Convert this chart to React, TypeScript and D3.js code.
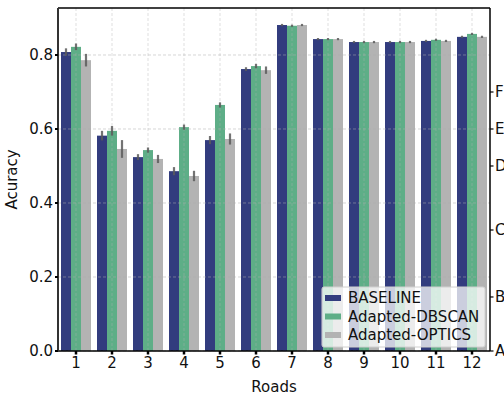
import * as d3 from 'd3';

const roads = ['1', '2', '3', '4', '5', '6', '7', '8', '9', '10', '11', '12'];
const seriesNames = ['BASELINE', 'Adapted-DBSCAN', 'Adapted-OPTICS'];
const seriesColors = ['#323c7e', '#5eae87', '#b3b3b3'];

const baseline = [0.808, 0.582, 0.524, 0.486, 0.570, 0.762, 0.881, 0.843, 0.835, 0.835, 0.838, 0.849];
const dbscan = [0.822, 0.595, 0.543, 0.605, 0.665, 0.770, 0.879, 0.843, 0.835, 0.835, 0.841, 0.857];
const optics = [0.786, 0.546, 0.519, 0.473, 0.573, 0.759, 0.881, 0.843, 0.835, 0.835, 0.838, 0.849];

const baselineErr = [0.010, 0.013, 0.008, 0.011, 0.011, 0.005, 0.003, 0.003, 0.003, 0.003, 0.003, 0.003];
const dbscanErr = [0.009, 0.013, 0.007, 0.007, 0.007, 0.006, 0.003, 0.003, 0.003, 0.003, 0.003, 0.003];
const opticsErr = [0.017, 0.024, 0.011, 0.014, 0.015, 0.010, 0.003, 0.003, 0.003, 0.003, 0.003, 0.003];

const yTickValues = [0, 0.2, 0.4, 0.6, 0.8];
const rightTickLabels = ['A', 'B', 'C', 'D', 'E', 'F'];
const rightTickValues = [0, 0.146, 0.327, 0.5, 0.6, 0.7];

export default function App() {
  const width = 504;
  const height = 397;
  const margin = { top: 8, right: 14, bottom: 46, left: 58 };
  const plotW = width - margin.left - margin.right;
  const plotH = height - margin.top - margin.bottom;

  const values = [baseline, dbscan, optics];
  const errors = [baselineErr, dbscanErr, opticsErr];

  const x = d3.scaleBand().domain(roads).range([0, plotW]).padding(0);
  const groupW = x.bandwidth() * (30 / 36);
  const xs = d3.scaleBand().domain(seriesNames).range([0, groupW]).padding(0);
  const y = d3.scaleLinear().domain([0, 0.927]).range([plotH, 0]);

  const font = 'DejaVu Sans, sans-serif';

  return (
    <svg width={width} height={height} style={{ position: 'absolute', left: 0, top: 0, display: 'block' }} fontFamily={font}>
      <rect width={width} height={height} fill="#fff" />
      <g transform={`translate(${margin.left},${margin.top})`}>
        {values.map((vals, si) =>
          vals.map((v, i) => {
            const bx = (x(roads[i]) ?? 0) + (x.bandwidth() - groupW) / 2 + (xs(seriesNames[si]) ?? 0);
            return (
              <rect key={`b-${si}-${i}`} x={bx} y={y(v)} width={xs.bandwidth()} height={plotH - y(v)} fill={seriesColors[si]} />
            );
          })
        )}
        {/* grid on top, faint */}
        {yTickValues.map((t) => (
          <line key={`gy-${t}`} x1={0} x2={plotW} y1={y(t)} y2={y(t)} stroke="#b0b0b0" strokeOpacity={0.5} strokeDasharray="3 2" />
        ))}
        {roads.map((r) => (
          <line key={`gx-${r}`} x1={(x(r) ?? 0) + x.bandwidth() / 2} x2={(x(r) ?? 0) + x.bandwidth() / 2} y1={0} y2={plotH} stroke="#b0b0b0" strokeOpacity={0.4} strokeDasharray="3 2" />
        ))}
        {values.map((vals, si) =>
          vals.map((v, i) => {
            const cx = (x(roads[i]) ?? 0) + (x.bandwidth() - groupW) / 2 + (xs(seriesNames[si]) ?? 0) + xs.bandwidth() / 2;
            const e = errors[si][i];
            return (
              <line key={`e-${si}-${i}`} x1={cx} x2={cx} y1={y(v - e)} y2={y(v + e)} stroke="#5a5a5a" strokeOpacity={0.85} strokeWidth={2.2} />
            );
          })
        )}

        {/* spines */}
        <line x1={0} x2={plotW} y1={0} y2={0} stroke="#000" strokeWidth={1.5} />
        <line x1={plotW} x2={plotW} y1={0} y2={plotH} stroke="#000" strokeWidth={1.5} />
        <line x1={0} x2={plotW} y1={plotH} y2={plotH} stroke="#000" strokeWidth={1.5} />
        <line x1={0} x2={0} y1={0} y2={plotH} stroke="#333" strokeWidth={2} />

        {/* left ticks */}
        {yTickValues.map((t) => (
          <g key={`ly-${t}`} transform={`translate(0,${y(t)})`}>
            <line x1={-3} x2={0} stroke="#000" strokeWidth={2} />
            <text x={-5} dy="0.36em" textAnchor="end" fontSize={15} fill="#111">{t.toFixed(1)}</text>
          </g>
        ))}
        {/* bottom ticks */}
        {roads.map((r) => (
          <g key={`lx-${r}`} transform={`translate(${(x(r) ?? 0) + x.bandwidth() / 2},${plotH})`}>
            <line y1={0} y2={3.5} stroke="#000" strokeWidth={2.5} />
            <text y={17} textAnchor="middle" fontSize={15} fill="#111">{r}</text>
          </g>
        ))}
        {/* right ticks */}
        {rightTickValues.map((t, i) => (
          <g key={`ry-${i}`} transform={`translate(${plotW},${y(t)})`}>
            <line x1={0} x2={3.5} stroke="#000" strokeWidth={1.2} />
            <text x={5} dy="0.36em" textAnchor="start" fontSize={15} fill="#111">{rightTickLabels[i]}</text>
          </g>
        ))}

        <text transform={`translate(${-41},${plotH / 2}) rotate(-90)`} textAnchor="middle" fontSize={15} fill="#111">Acuracy</text>
        <text x={plotW / 2} y={plotH + 41} textAnchor="middle" fontSize={15} fill="#111">Roads</text>

        {/* legend */}
        <g transform={`translate(${322 - margin.left},${287 - margin.top})`}>
          <rect x={0} y={0} width={163} height={60} rx={2} fill="#fff" fillOpacity={0.75} stroke="#d0d0d0" />
          {seriesNames.map((n, i) => (
            <g key={`lg-${n}`} transform={`translate(0,${11 + i * 18.5})`}>
              <rect x={3} y={-3} width={16} height={6} fill={seriesColors[i]} />
              <text x={26} dy="0.36em" fontSize={15} fill="#111">{n}</text>
            </g>
          ))}
        </g>
      </g>
    </svg>
  );
}
